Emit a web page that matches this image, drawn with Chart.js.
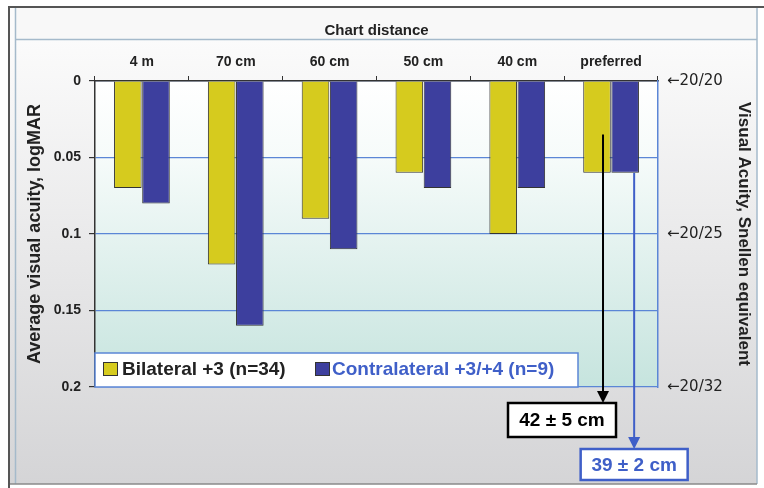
<!DOCTYPE html>
<html>
<head>
<meta charset="utf-8">
<script src="https://cdn.jsdelivr.net/npm/chart.js@4.4.0/dist/chart.umd.min.js"></script>
<style>
  html, body { margin: 0; padding: 0; background: #fff; }
</style>
</head>
<body>
<canvas id="myChart" width="764" height="488"></canvas>
<script>
// ---- data ----
const distances = ["4 m", "70 cm", "60 cm", "50 cm", "40 cm", "preferred"];
const bilateral = [0.07, 0.12, 0.09, 0.06, 0.10, 0.06];
const contralateral = [0.08, 0.16, 0.11, 0.07, 0.07, 0.06];
const logmarTicks = ["0", "0.05", "0.1", "0.15", "0.2"];
const snellenTicks = ["←20/20", "←20/25", "←20/32"];
const seriesNames = ["Bilateral +3 (n=34)", "Contralateral +3/+4 (n=9)"];
const preferredLabels = ["42 ± 5 cm", "39 ± 2 cm"];

const yellow = "#d6cb1e";
const navy = "#3d3f9e";
const gridBlue = "#5b86d6";
const textBlue = "#3f5fc8";
const dark = "#222";
const fam = "'Liberation Sans', Arial, sans-serif";

// background, frame and header band
const backdrop = {
  id: "backdrop",
  beforeDraw(chart) {
    const ctx = chart.ctx;
    const a = chart.chartArea;
    ctx.save();
    ctx.fillStyle = "#fff";
    ctx.fillRect(0, 0, chart.width, chart.height);

    let g = ctx.createLinearGradient(0, 40, 0, 488);
    g.addColorStop(0, "#fbfbfb");
    g.addColorStop(1, "#d4d4d6");
    ctx.fillStyle = g;
    ctx.fillRect(10, 8, 747, 476);

    ctx.fillStyle = "#f8f8f8";
    ctx.fillRect(16, 8, 741, 31);

    ctx.strokeStyle = "#a5bacb";
    ctx.lineWidth = 1.5;
    ctx.beginPath();
    ctx.moveTo(16, 39.5); ctx.lineTo(757, 39.5);
    ctx.moveTo(15.5, 8); ctx.lineTo(15.5, 484);
    ctx.moveTo(757, 8); ctx.lineTo(757, 484);
    ctx.stroke();

    ctx.strokeStyle = "#8a8a8a";
    ctx.beginPath();
    ctx.moveTo(10, 484); ctx.lineTo(757, 484);
    ctx.stroke();

    ctx.strokeStyle = "#555";
    ctx.lineWidth = 2;
    ctx.beginPath();
    ctx.moveTo(9, 488); ctx.lineTo(9, 7); ctx.lineTo(764, 7);
    ctx.stroke();

    ctx.fillStyle = dark;
    ctx.font = "bold 15px " + fam;
    ctx.textAlign = "center";
    ctx.textBaseline = "middle";
    ctx.fillText("Chart distance", (a.left + a.right) / 2, 31);

    // plot area
    g = ctx.createLinearGradient(0, a.top, 0, a.bottom);
    g.addColorStop(0, "#ffffff");
    g.addColorStop(0.25, "#f6fbfa");
    g.addColorStop(1, "#c6e4de");
    ctx.fillStyle = g;
    ctx.fillRect(a.left, a.top, a.right - a.left, a.bottom - a.top);
    ctx.restore();
  }
};

function arrowDown(ctx, x, y1, y2, color) {
  ctx.strokeStyle = color;
  ctx.fillStyle = color;
  ctx.lineWidth = 2;
  ctx.beginPath();
  ctx.moveTo(x, y1);
  ctx.lineTo(x, y2 - 10);
  ctx.stroke();
  ctx.beginPath();
  ctx.moveTo(x - 6, y2 - 12);
  ctx.lineTo(x + 6, y2 - 12);
  ctx.lineTo(x, y2);
  ctx.closePath();
  ctx.fill();
}

function labelBox(ctx, cx, top, w, h, text, color) {
  ctx.fillStyle = "#fff";
  ctx.fillRect(cx - w / 2, top, w, h);
  ctx.strokeStyle = color;
  ctx.lineWidth = 2.5;
  ctx.strokeRect(cx - w / 2, top, w, h);
  ctx.fillStyle = color;
  ctx.font = "bold 19px " + fam;
  ctx.textAlign = "center";
  ctx.textBaseline = "middle";
  ctx.fillText(text, cx, top + h / 2 + 1);
}

// legend inside plot + arrows for preferred distance
const overlay = {
  id: "overlay",
  afterDraw(chart) {
    const ctx = chart.ctx;
    const a = chart.chartArea;
    const y = chart.scales.y;
    ctx.save();

    // legend
    ctx.fillStyle = "#fff";
    ctx.fillRect(a.left, 353, 578 - a.left, a.bottom - 353);
    ctx.strokeStyle = gridBlue;
    ctx.lineWidth = 1.5;
    ctx.strokeRect(a.left, 353, 578 - a.left, a.bottom - 353);

    ctx.font = "bold 19px " + fam;
    ctx.textBaseline = "middle";
    ctx.textAlign = "left";
    ctx.lineWidth = 1;
    ctx.strokeStyle = "#333";
    ctx.fillStyle = yellow;
    ctx.fillRect(103, 362, 14, 13);
    ctx.strokeRect(103.5, 362.5, 14, 13);
    ctx.fillStyle = dark;
    ctx.fillText(seriesNames[0], 122, 370);
    ctx.fillStyle = navy;
    ctx.fillRect(315, 362, 14, 13);
    ctx.strokeRect(315.5, 362.5, 14, 13);
    ctx.fillStyle = textBlue;
    ctx.fillText(seriesNames[1], 332, 370);

    // arrows
    const last = distances.length - 1;
    const barA = chart.getDatasetMeta(0).data[last];
    const barB = chart.getDatasetMeta(1).data[last];
    const xA = barA.x + 6;
    const xB = barB.x + 9;
    arrowDown(ctx, xA, y.getPixelForValue(0.035), 403, "#000");
    arrowDown(ctx, xB, y.getPixelForValue(contralateral[last]), 449, textBlue);
    labelBox(ctx, xA - 41, 403, 108, 34, preferredLabels[0], "#000");
    labelBox(ctx, xB, 449, 107, 31, preferredLabels[1], textBlue);

    ctx.restore();
  }
};

const ctx = document.getElementById("myChart").getContext("2d");

const myChart = new Chart(ctx, {
  type: "bar",
  data: {
    labels: distances,
    datasets: [
      {
        label: seriesNames[0],
        data: bilateral,
        backgroundColor: yellow,
        borderColor: "#333",
        borderWidth: 1,
        categoryPercentage: 0.6,
        barPercentage: 0.98,
      },
      {
        label: seriesNames[1],
        data: contralateral,
        backgroundColor: navy,
        borderColor: "#333",
        borderWidth: 1,
        categoryPercentage: 0.6,
        barPercentage: 0.98,
      },
    ],
  },
  options: {
    responsive: false,
    animation: false,
    layout: { padding: { left: 20, right: 6, top: 45, bottom: 101 } },
    plugins: {
      legend: { display: false },
      tooltip: { enabled: false },
    },
    scales: {
      x: {
        position: "top",
        grid: { offset: true, drawOnChartArea: false, tickLength: 5, color: "#333" },
        border: { color: "#333", width: 1.5 },
        ticks: {
          color: dark,
          padding: 5,
          maxRotation: 0,
          font: { family: fam, size: 14, weight: "bold" },
        },
        afterFit: (scale) => { scale.height = 36; },
      },
      y: {
        position: "left",
        reverse: true,
        min: 0,
        max: 0.2,
        grid: { color: gridBlue, lineWidth: 1.2, tickColor: "#333", tickLength: 6 },
        border: { color: "#333", width: 1.5 },
        ticks: {
          stepSize: 0.05,
          color: dark,
          padding: 8,
          font: { family: fam, size: 14, weight: "bold" },
          callback: (v) => logmarTicks[Math.round(v / 0.05)],
        },
        title: {
          display: true,
          text: "Average visual acuity, logMAR",
          color: dark,
          font: { family: fam, size: 18, weight: "bold" },
        },
        afterFit: (scale) => { scale.width = 75; },
      },
      y2: {
        position: "right",
        reverse: true,
        min: 0,
        max: 0.2,
        grid: { display: false },
        border: { color: gridBlue, width: 1.5 },
        ticks: {
          stepSize: 0.1,
          color: dark,
          padding: 1,
          font: { family: "'DejaVu Sans', sans-serif", size: 15 },
          callback: (v) => snellenTicks[Math.round(v / 0.1)],
        },
        title: {
          display: true,
          text: "Visual Acuity, Snellen equivalent",
          color: dark,
          font: { family: fam, size: 17, weight: "bold" },
        },
        afterFit: (scale) => { scale.width = 100; },
      },
    },
  },
  plugins: [backdrop, overlay],
});
</script>
</body>
</html>
